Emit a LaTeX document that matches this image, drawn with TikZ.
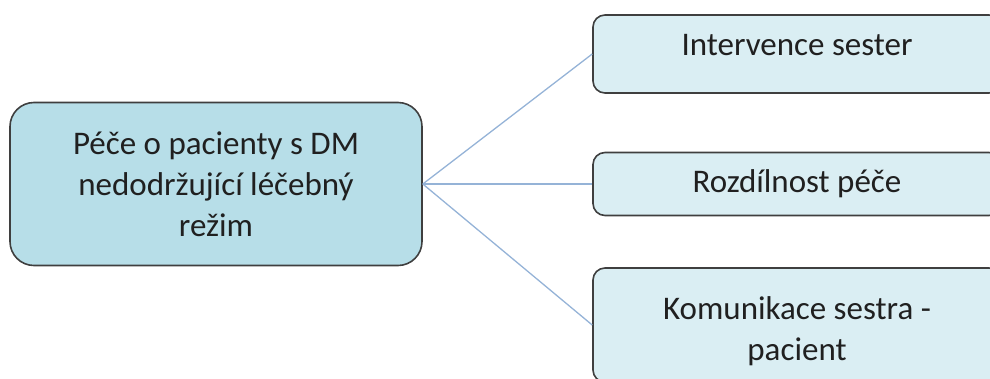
\documentclass[tikz,border=0pt]{standalone}
\usepackage{fontspec}
\setmainfont{Carlito}
\usepackage{tikz}
\usetikzlibrary{positioning}
\usepackage{xcolor}
\definecolor{mainfill}{HTML}{B7DEE8}
\definecolor{subfill}{HTML}{DAEEF3}
\definecolor{boxline}{HTML}{3F3F3F}
\definecolor{linkline}{HTML}{95B3D7}
\definecolor{txt}{HTML}{202020}

\begin{document}
\begin{tikzpicture}[x=1pt,y=-1pt,
    mainbox/.style={draw=boxline, line width=1.6pt, fill=mainfill, rounded corners=24pt,
        minimum width=412pt, minimum height=163pt, align=center, text=txt,
        font=\fontsize{33}{41}\selectfont},
    subbox/.style={draw=boxline, line width=1.6pt, fill=subfill, rounded corners=12pt,
        minimum width=408pt, align=center, text=txt,
        font=\fontsize{33}{41}\selectfont},
    link/.style={draw=linkline, line width=1.3pt}]
    \useasboundingbox (0,0) rectangle (990,378);
    \clip (0,0) rectangle (990,378);
    \node[mainbox] (pece) at (216,184) {Péče o pacienty s DM\\nedodržující léčebný\\režim};
    \node[subbox, minimum height=78pt, text depth=18pt] (intervence) at (797,54) {Intervence sester};
    \node[subbox, minimum height=63pt] (rozdil) at (797,184) {Rozdílnost péče};
    \node[subbox, minimum height=114pt, text height=77pt] (komunikace) at (797,325) {Komunikace sestra -\\pacient};
    \draw[link] (pece.east) -- (intervence.west);
    \draw[link] (pece.east) -- (rozdil.west);
    \draw[link] (pece.east) -- (komunikace.west);
\end{tikzpicture}
\end{document}
